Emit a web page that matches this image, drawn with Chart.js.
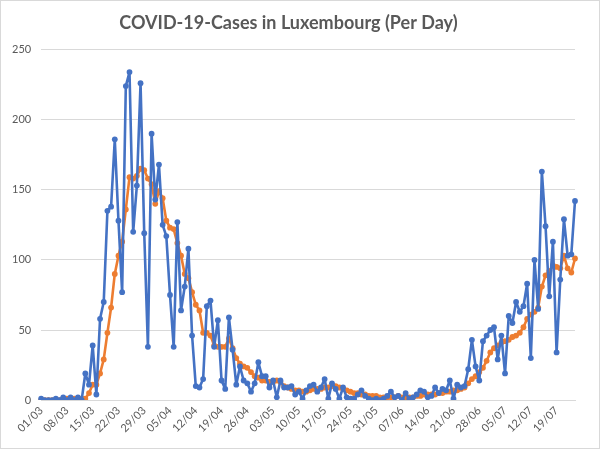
<!DOCTYPE html>
<html>
<head>
<meta charset="utf-8">
<script src="https://cdn.jsdelivr.net/npm/chart.js@4.4.1/dist/chart.umd.min.js"></script>
<style>
  html, body { margin: 0; padding: 0; background: #fff; }
  #wrap { width: 600px; height: 449px; }
</style>
</head>
<body>
<div id="wrap"><canvas id="c"></canvas></div>
<script>
// first day of the series
const START_DAY = { day: 1, month: 3 };

// daily new cases (blue)
const dailyCases = [
  1, 0, 0, 0, 1, 0, 2, 0, 2, 0,
  2, 0, 19, 11, 39, 4, 58, 70, 135, 138,
  186, 128, 77, 224, 234, 120, 153, 226, 119, 38,
  190, 143, 168, 125, 117, 75, 38, 127, 64, 81,
  108, 46, 10, 9, 15, 67, 71, 38, 57, 14,
  8, 59, 36, 11, 24, 14, 12, 6, 12, 27,
  17, 17, 9, 14, 2, 14, 9, 9, 10, 4,
  6, 1, 7, 10, 11, 6, 9, 15, 1, 12,
  8, 1, 9, 2, 1, 1, 4, 7, 3, 1,
  0, 1, 0, 1, 3, 6, 2, 3, 0, 5,
  1, 2, 4, 7, 6, 2, 3, 9, 5, 8,
  7, 14, 1, 11, 9, 10, 22, 43, 24, 14,
  42, 46, 50, 52, 29, 46, 19, 60, 55, 70,
  63, 67, 83, 30, 100, 65, 163, 124, 74, 113,
  34, 86, 129, 103, 104, 142
];

// 7-day average (orange)
const averageCases = [
  0, 0, 0, 0, 0, 0, 1, 1, 1, 1,
  1, 1, 1, 5, 11, 11, 19, 29, 48, 66,
  90, 103, 113, 136, 159, 158, 160, 165, 164, 158,
  154, 140, 149, 144, 128, 123, 122, 112, 103, 90,
  87, 77, 68, 64, 48, 48, 46, 39, 38, 38,
  38, 44, 37, 30, 26, 24, 23, 20, 17, 16,
  14, 14, 13, 13, 14, 13, 10, 9, 8, 7,
  7, 6, 6, 7, 8, 8, 8, 9, 9, 10,
  10, 9, 8, 7, 6, 5, 5, 4, 4, 3,
  3, 3, 2, 2, 2, 2, 2, 3, 2, 2,
  2, 2, 3, 3, 4, 4, 4, 4, 5, 5,
  6, 6, 7, 7, 8, 9, 12, 15, 17, 20,
  23, 28, 34, 37, 39, 41, 42, 43, 45, 46,
  48, 52, 58, 61, 63, 66, 81, 89, 92, 96,
  95, 94, 103, 94, 91, 101
];

const tickLabels = ['01/03', '08/03', '15/03', '22/03', '29/03', '05/04', '12/04',
  '19/04', '26/04', '03/05', '10/05', '17/05', '24/05', '31/05', '07/06',
  '14/06', '21/06', '28/06', '05/07', '12/07', '19/07'];

const yTicks = [0, 50, 100, 150, 200, 250];

const TEXT = '#595959';
const GRID = '#d9d9d9';
const BLUE = '#4472C4';
const ORANGE = '#ED7D31';
const FONT = 'Lato, "Open Sans", sans-serif';

// one dd/mm label per day
const pad = n => String(n).padStart(2, '0');
const days = dailyCases.map((_, i) => {
  const d = new Date(2020, START_DAY.month - 1, START_DAY.day + i);
  return pad(d.getDate()) + '/' + pad(d.getMonth() + 1);
});

const frame = {
  id: 'frame',
  beforeDraw(chart) {
    const { ctx, width, height } = chart;
    ctx.save();
    ctx.fillStyle = '#fff';
    ctx.fillRect(0, 0, width, height);
    ctx.strokeStyle = GRID;
    ctx.lineWidth = 1;
    ctx.strokeRect(0.5, 0.5, width - 1, height - 1);
    ctx.restore();
  },
};

const lineStyle = { borderWidth: 2.6, pointRadius: 2.9, pointBorderWidth: 0, tension: 0,
  borderJoinStyle: 'round', borderCapStyle: 'round' };

new Chart(document.getElementById('c'), {
  type: 'line',
  data: {
    labels: days,
    datasets: [
      { label: 'Daily', data: dailyCases, borderColor: BLUE, backgroundColor: BLUE, ...lineStyle },
      { label: 'Average', data: averageCases, borderColor: ORANGE, backgroundColor: ORANGE, ...lineStyle },
    ],
  },
  options: {
    responsive: true, maintainAspectRatio: false, animation: false,
    layout: { padding: { left: 2, right: 25, top: 0, bottom: 10 } },
    plugins: {
      legend: { display: false },
      tooltip: { enabled: false },
      title: {
        display: true, text: 'COVID-19-Cases in Luxembourg (Per Day)', color: TEXT,
        font: { family: FONT, size: 18, weight: 'bold' }, padding: { top: 12, bottom: 16 },
      },
    },
    scales: {
      x: {
        offset: false,
        grid: { display: false, drawTicks: false },
        border: { display: true, color: GRID, width: 1 },
        ticks: {
          autoSkip: false, minRotation: 45, maxRotation: 45, padding: 4,
          color: TEXT, font: { family: FONT, size: 11 },
          callback: (v, i) => tickLabels.includes(days[i]) && i % 7 === 0 ? days[i] : '',
        },
      },
      y: {
        min: 0, max: 250,
        afterBuildTicks: s => { s.ticks = yTicks.map(v => ({ value: v })); },
        grid: { color: GRID, drawTicks: false },
        border: { display: false },
        ticks: { color: TEXT, padding: 10, font: { family: FONT, size: 11 } },
      },
    },
  },
  plugins: [frame],
});
</script>
</body>
</html>
